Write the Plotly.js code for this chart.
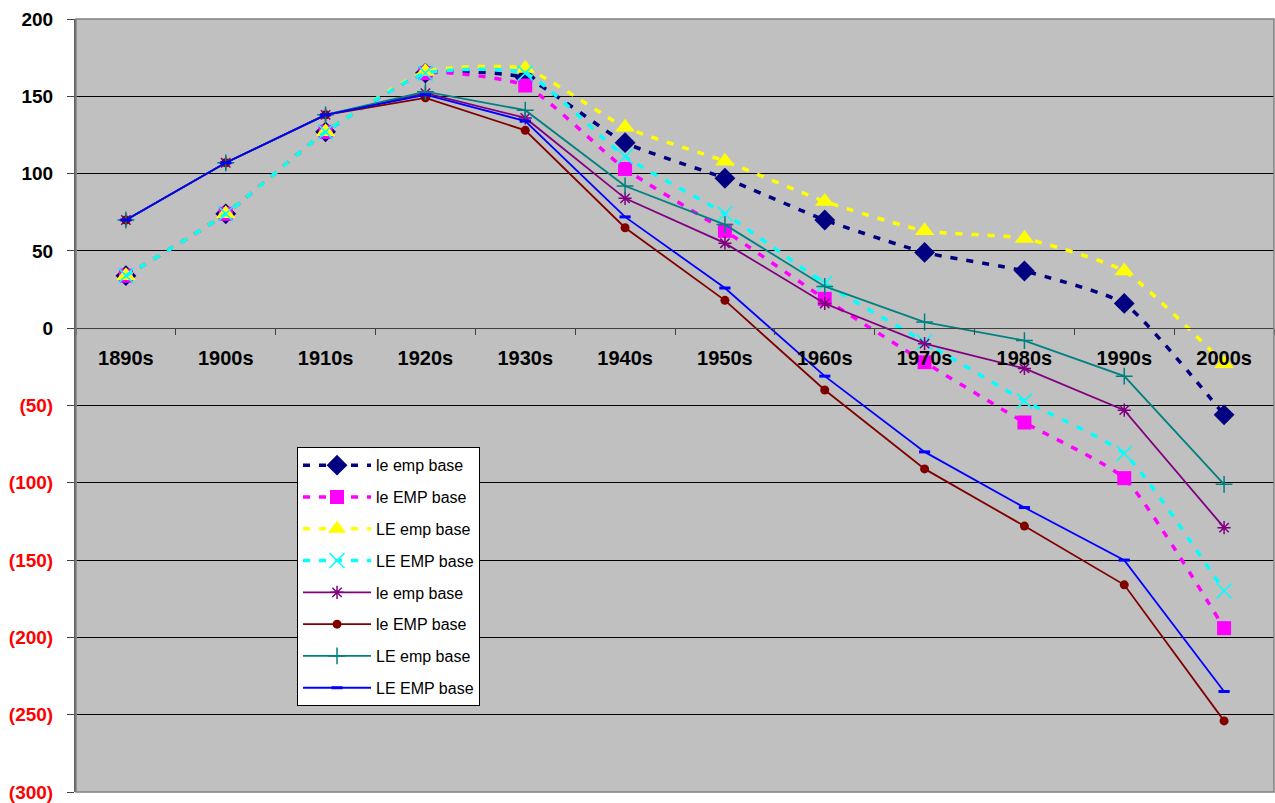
<!DOCTYPE html>
<html>
<head>
<meta charset="utf-8">
<script src="https://cdn.plot.ly/plotly-3.0.1.min.js"></script>
<style>html,body{margin:0;padding:0;background:#fff;}#chart{width:1275px;height:803px;}</style>
</head>
<body>
<div id="chart"></div>
<script>
const categories = ['1890s','1900s','1910s','1920s','1930s','1940s','1950s','1960s','1970s','1980s','1990s','2000s'];

const leEmpDash  = [34, 74, 127, 165, 162, 120, 97, 70, 49, 37, 16, -56];
const leEMPDash  = [34, 74, 127, 165, 157, 103, 63, 19, -22, -61, -97, -194];
const LEempDash  = [34, 74, 127, 166, 168, 130, 108, 82, 63, 58, 37, -23];
const LEEMPDash  = [34, 74, 127, 165, 165, 111, 74, 29, -9, -47, -81, -170];
const leEmpSolid = [70, 107, 138, 152, 136, 84, 55, 16, -10, -26, -53, -129];
const leEMPSolid = [70, 107, 138, 149, 128, 65, 18, -40, -91, -128, -166, -254];
const LEempSolid = [70, 107, 138, 153, 141, 92, 67, 27, 4, -8, -31, -101];
const LEEMPSolid = [70, 107, 138, 151, 134, 72, 26, -31, -80, -116, -150, -235];

const seriesNames = ['le emp base','le EMP base','LE emp base','LE EMP base','le emp base','le EMP base','LE emp base','LE EMP base'];
const yTickVals = [200,150,100,50,0,-50,-100,-150,-200,-250,-300];

const yTickText = yTickVals.map(v => v < 0 ? '<span style="color:#FF0000">(' + (-v) + ')</span>' : String(v));

let groupId = 0;
function dashed(y, name, color, symbol, size) {
  groupId++;
  return {x: categories, y: y, name: name, legendgroup: 'g' + groupId, type: 'scatter', mode: 'lines+markers',
    line: {color: color, width: 3.5, dash: '7px,9px', shape: 'spline', smoothing: 0.5},
    marker: {symbol: symbol, size: size, color: color, line: {color: color, width: symbol.indexOf('open') >= 0 ? 1.5 : 0}}};
}
function solid(y, name, color, symbol, size, mw) {
  groupId++;
  return {x: categories, y: y, name: name, legendgroup: 'g' + groupId, type: 'scatter', mode: 'lines+markers',
    line: {color: color, width: 1.8},
    marker: {symbol: symbol, size: size, color: color, line: {color: color, width: mw}}};
}

const data = [
  dashed(leEmpDash, seriesNames[0], '#000080', 'diamond', 16),
  dashed(leEMPDash, seriesNames[1], '#FF00FF', 'square', 14),
  dashed(LEempDash, seriesNames[2], '#FFFF00', 'triangle-up', 17),
  dashed(LEEMPDash, seriesNames[3], '#00FFFF', 'x-thin-open', 15),
  solid(leEmpSolid, seriesNames[4], '#800080', 'asterisk-open', 11, 1.5),
  solid(leEMPSolid, seriesNames[5], '#800000', 'circle', 9, 0),
  solid(LEempSolid, seriesNames[6], '#008080', 'cross-thin-open', 12, 1.5),
  solid(LEEMPSolid, seriesNames[7], '#0000FF', 'line-ew-open', 8, 3)
];

const layout = {
  width: 1275, height: 803,
  margin: {l: 76, r: 1, t: 19, b: 11, pad: 0},
  paper_bgcolor: '#FFFFFF',
  plot_bgcolor: '#C0C0C0',
  showlegend: true,
  legend: {
    x: 0.1845, y: 0.446, xanchor: 'left', yanchor: 'top',
    bgcolor: '#FFFFFF', bordercolor: '#000000', borderwidth: 1,
    font: {family: 'Liberation Sans, Arial, sans-serif', size: 16, color: '#000'},
    itemwidth: 68, tracegroupgap: 8, traceorder: 'grouped'
  },
  xaxis: {
    type: 'category', range: [-0.5, 11.5],
    anchor: 'free', position: 0.6,
    showline: true, linecolor: '#404040', linewidth: 1,
    ticks: 'outside', tickson: 'boundaries', ticklen: 6, tickcolor: '#404040',
    ticklabelstandoff: 12,
    showgrid: false, zeroline: false,
    tickfont: {family: 'Liberation Sans, Arial, sans-serif', size: 20, color: '#000', weight: 'bold'}
  },
  yaxis: {
    range: [-300, 200],
    tickvals: yTickVals, ticktext: yTickText,
    showgrid: true, gridcolor: '#000000', gridwidth: 1,
    zeroline: false,
    showline: true, linecolor: '#606060', linewidth: 2,
    ticks: 'outside', ticklen: 7, tickcolor: '#404040',
    ticklabelstandoff: 10,
    tickfont: {family: 'Liberation Sans, Arial, sans-serif', size: 19, color: '#000', weight: 'bold'}
  },
  shapes: [
    {type: 'rect', xref: 'paper', yref: 'paper', x0: 0, x1: 1, y0: 0, y1: 1, line: {color: '#808080', width: 1.5}}
  ]
};

Plotly.newPlot('chart', data, layout, {displayModeBar: false, staticPlot: true});
</script>
</body>
</html>
